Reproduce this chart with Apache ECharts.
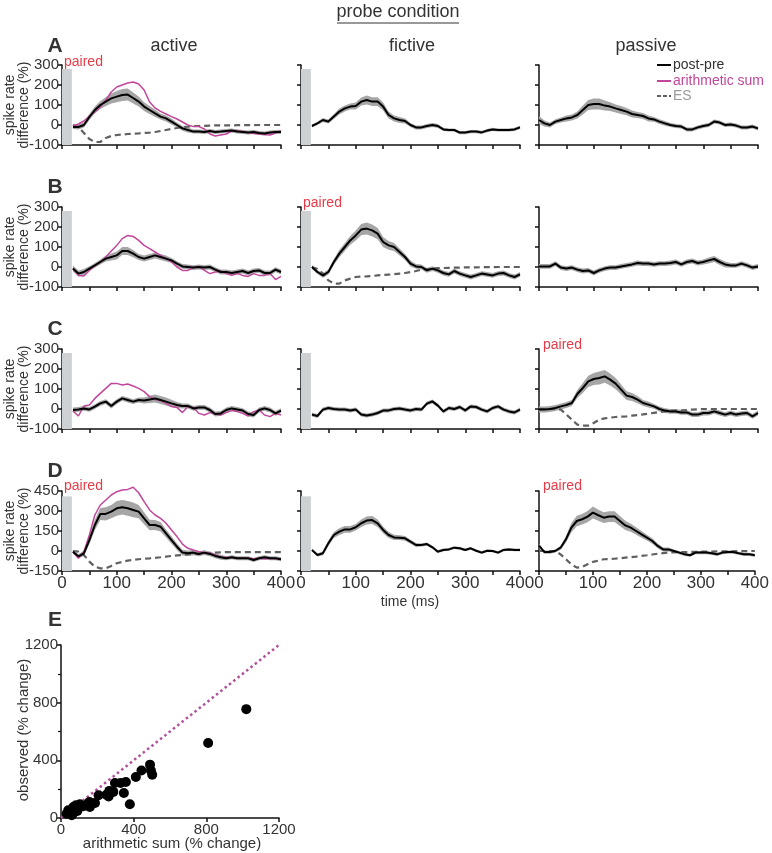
<!DOCTYPE html>
<html><head><meta charset="utf-8">
<script src="https://cdn.jsdelivr.net/npm/echarts@6/dist/echarts.min.js"></script>
<style>html,body{margin:0;padding:0;background:#fff}#c{width:772px;height:853px}</style>
</head><body><div id="c"></div><script>
// ---------- time bases (ms) ----------
const tDelay = [20,30,40,50,60,70,80,90,100,110,120,130,140,150,160,170,180,190,200,210,220,230,240,250,260,270,280,290,300,310,320,330,340,350,360,370,380,390,400];
const tFull = [0,10,20,30,40,50,60,70,80,90,100,110,120,130,140,150,160,170,180,190,200,210,220,230,240,250,260,270,280,290,300,310,320,330,340,350,360,370,380,390,400];
const stimWindow = [0, 18];
const stimTop = [280, 280, 280, 410];
const rowRanges = [[-100,300,100],[-100,300,100],[-100,300,100],[-150,450,150]];
const xTicks = [0, 400, 50];

// ---------- row A ----------
const aActMean = [-10,-10,0,40,75,100,117,133,142,150,152,135,117,92,75,58,42,33,17,0,-17,-25,-33,-33,-35,-30,-35,-33,-30,-28,-33,-35,-38,-35,-40,-42,-38,-35,-35];
const aActSem  = [10,12,12,15,18,20,22,25,28,30,30,28,25,22,20,18,15,15,15,12,12,12,10,10,10,10,10,10,10,10,10,10,10,10,10,10,10,10,10];
const aActSum  = [-5,5,20,45,65,90,125,165,190,200,210,215,205,175,115,85,68,55,42,30,15,0,-8,-8,-20,-45,-55,-50,-45,-30,-28,-33,-38,-42,-45,-48,-50,-40,-28];
const aActES   = [0,-10,-40,-70,-85,-85,-65,-55,-50,-48,-45,-43,-42,-40,-38,-35,-30,-25,-20,-15,-10,-8,-5,-5,-4,-3,-2,-2,-2,-2,-1,-1,-1,-1,0,0,0,0,0];
const aFicMean = [-5,8,25,17,42,67,83,92,95,117,125,117,117,92,50,33,25,20,0,-12,-12,-5,0,-5,-22,-25,-25,-38,-38,-33,-33,-37,-28,-22,-25,-25,-25,-22,-12];
const aFicSem  = [8,8,10,10,12,15,15,15,18,20,22,22,22,20,18,15,15,12,10,10,10,10,10,10,8,8,8,8,8,8,8,8,8,8,8,8,8,8,8];
const aPasMean = [25,8,0,17,25,33,38,50,75,100,105,105,97,92,83,75,67,55,50,45,33,28,17,8,0,-5,-8,-22,-22,-12,-5,0,17,12,0,3,-3,-12,-12,-8,-17];
const aPasSem  = [20,15,12,12,12,15,15,18,22,25,28,28,25,22,20,20,18,18,15,15,15,12,12,12,10,10,10,10,10,10,10,10,10,10,10,10,10,10,10,10,10];

// ---------- row B ----------
const bActMean = [-8,-33,-25,-8,8,25,42,50,58,80,80,67,50,42,50,58,50,42,33,17,3,0,-3,0,-3,0,-13,-25,-25,-30,-25,-20,-30,-20,-17,-30,-30,-13,-25];
const bActSem  = [15,15,15,12,12,12,15,18,20,20,20,18,15,15,15,15,15,15,12,12,12,12,12,12,12,12,12,12,12,12,12,12,12,12,12,12,12,12,12];
const bActSum  = [-8,-42,-45,-17,8,25,50,80,108,142,158,153,133,108,92,75,58,42,25,0,-17,-17,-3,3,-17,-33,-25,-20,-33,-42,-33,-42,-47,-33,-42,-42,-33,-63,-47];
const bFicMean = [0,-25,-42,-25,25,67,100,133,158,187,192,183,167,125,108,100,75,50,17,3,0,-17,-8,-17,-30,-37,-20,-33,-42,-50,-42,-33,-37,-42,-33,-30,-42,-50,-37];
const bFicSem  = [10,10,12,12,15,18,20,22,25,28,30,30,28,25,22,20,18,15,15,12,12,12,12,12,12,12,12,12,12,12,12,12,12,12,12,12,12,12,12];
const bFicES   = [0,-10,-33,-67,-83,-83,-67,-58,-50,-48,-47,-45,-42,-40,-38,-36,-33,-30,-25,-20,-13,-10,-8,-6,-5,-4,-3,-3,-2,-2,-2,-1,-1,-1,0,0,0,0,0];
const bPasMean = [3,3,3,17,-3,-8,-3,-13,-20,-17,-30,-17,-8,-3,-3,3,8,13,20,17,17,13,17,17,20,25,13,25,30,20,25,33,40,25,13,8,8,17,8,-3,3];
const bPasSem  = [12,12,12,12,12,12,12,12,12,12,12,12,12,12,12,12,12,12,12,12,12,12,12,12,12,12,12,12,12,12,12,15,15,15,15,12,12,12,12,12,12];

// ---------- row C ----------
const cActMean = [-5,-2,3,-2,12,28,37,15,37,53,45,37,45,42,48,53,45,37,28,20,15,15,3,8,8,-5,-25,-22,-5,3,-2,-8,-25,-30,-5,3,-5,-22,-8];
const cActSem  = [12,12,12,12,12,12,12,12,12,12,12,12,12,15,18,20,20,20,18,15,12,12,12,12,12,12,12,12,12,12,12,12,12,12,12,12,12,12,12];
const cActSum  = [-10,-35,15,20,53,78,103,128,128,120,125,115,103,87,62,48,42,28,12,8,-18,12,8,-22,-30,-18,-25,-30,-18,-8,-13,-22,-35,-13,-5,-30,-38,-22,-30];
const cFicMean = [-28,-35,-3,5,0,-3,-3,-8,-3,-28,-33,-28,-20,-8,-7,0,3,-3,-7,0,-3,27,38,17,-12,5,0,10,-7,13,10,-3,-12,5,13,-3,-12,-17,-3];
const cFicSem  = [10,10,10,10,10,10,10,10,10,10,10,10,10,10,10,10,10,10,10,10,10,10,10,10,10,10,10,10,10,10,10,10,10,10,10,10,10,10,10];
const cPasMean = [-3,-3,0,5,13,20,30,75,105,138,150,155,163,147,127,97,67,60,47,30,22,13,0,-8,-12,-12,-17,-17,-28,-28,-20,-20,-12,-20,-28,-20,-28,-23,-20,-37,-20];
const cPasSem  = [15,15,15,15,15,15,15,20,25,28,30,32,32,30,28,25,22,20,18,15,15,12,12,12,12,12,12,12,12,12,12,12,12,12,12,12,12,12,12,12,12];
const cPasES   = [0,0,0,0,-3,-28,-53,-78,-83,-83,-70,-53,-47,-43,-40,-38,-37,-33,-30,-27,-23,-19,-15,-12,-10,-8,-7,-5,-3,-2,0,0,0,0,0,0,0,0,0,0,0];

// ---------- row D ----------
const dActMean = [-5,-40,-17,82,195,278,278,295,320,328,320,308,295,245,195,195,182,132,82,32,-12,-17,-12,-22,-12,-22,-37,-47,-55,-47,-55,-55,-55,-67,-55,-47,-55,-55,-62];
const dActSem  = [15,15,20,30,40,45,50,50,55,55,55,55,50,45,40,38,35,30,28,25,22,20,20,18,18,18,18,18,15,15,15,15,15,15,15,15,15,15,15];
const dActSum  = [-5,-55,-5,120,270,345,382,420,445,457,462,478,437,370,308,270,245,208,158,108,52,20,7,-5,-12,-17,-30,-47,-47,-50,-55,-52,-55,-58,-55,-60,-55,-58,-60];
const dActES   = [0,-5,-30,-80,-117,-130,-130,-112,-92,-82,-72,-67,-62,-58,-55,-51,-47,-42,-37,-33,-30,-26,-22,-20,-17,-15,-12,-10,-8,-8,-8,-8,-8,-8,-8,-8,-8,-8,-8];
const dFicMean = [8,-30,-17,58,120,145,162,162,178,208,228,232,208,158,120,102,100,95,70,45,45,52,28,-5,8,12,25,20,8,20,2,-12,2,0,-12,8,12,8,8];
const dFicSem  = [10,12,15,20,22,25,25,25,25,28,30,30,28,25,22,20,18,18,15,15,12,12,12,12,10,10,10,10,10,10,10,10,10,10,10,10,10,10,10];
const dPasMean = [40,-8,-8,0,25,88,175,225,238,258,288,268,250,258,258,225,192,175,150,125,100,75,38,12,12,0,-12,-25,-32,-12,-12,-12,-17,-25,-12,-8,-8,-17,-25,-25,-32];
const dPasSem  = [15,12,12,12,15,25,35,40,40,42,45,42,40,40,40,38,35,30,28,25,22,20,18,15,15,12,12,12,12,12,12,12,12,12,12,12,12,12,12,12,12];
const dPasES   = [0,0,0,0,-25,-62,-100,-125,-120,-100,-82,-72,-62,-60,-58,-54,-50,-46,-42,-37,-32,-26,-20,-16,-12,-10,-8,-8,-7,-6,-5,-4,-4,-3,-3,-2,-2,-1,-1,0,0];

// ---------- panel E ----------
const eSum = [1020,810,490,495,502,443,412,357,328,297,346,288,266,251,262,207,379,156,145,174,159,187,104,95,77,59,49,40,68,82,123,59,31,90,68];
const eObs = [755,520,370,330,300,330,285,250,243,243,174,181,188,162,150,158,95,111,95,100,76,104,95,76,58,49,30,53,76,88,81,19,30,49,35];
const unityLine = [[0,0],[1200,1200]];
const eTicks = [0, 1200, 400];

// ---------- layout / style ----------
const FONT = "'Liberation Sans', Arial, Helvetica, sans-serif";
const colLeft = [62, 301, 539], colW = 219;
const rowTop = [65, 207, 349, 491], rowH = 80;
const AX = '#111', TXT = '#333', MAG = '#c0479a', RED = '#e63c48', BAND = '#a6a6a6', STIM = '#cdd1d4';

const panels = [
  {row:0,col:0,t:tDelay,mean:aActMean,sem:aActSem,sum:aActSum,es:aActES,stim:true},
  {row:0,col:1,t:tDelay,mean:aFicMean,sem:aFicSem,stim:true},
  {row:0,col:2,t:tFull,mean:aPasMean,sem:aPasSem},
  {row:1,col:0,t:tDelay,mean:bActMean,sem:bActSem,sum:bActSum,stim:true},
  {row:1,col:1,t:tDelay,mean:bFicMean,sem:bFicSem,es:bFicES,stim:true},
  {row:1,col:2,t:tFull,mean:bPasMean,sem:bPasSem},
  {row:2,col:0,t:tDelay,mean:cActMean,sem:cActSem,sum:cActSum,stim:true},
  {row:2,col:1,t:tDelay,mean:cFicMean,sem:cFicSem,stim:true},
  {row:2,col:2,t:tFull,mean:cPasMean,sem:cPasSem,es:cPasES},
  {row:3,col:0,t:tDelay,mean:dActMean,sem:dActSem,sum:dActSum,es:dActES,stim:true},
  {row:3,col:1,t:tDelay,mean:dFicMean,sem:dFicSem,stim:true},
  {row:3,col:2,t:tFull,mean:dPasMean,sem:dPasSem,es:dPasES}
];

const pts = (t, v) => t.map((x, i) => [x, v[i]]);
const grids = [], xAxes = [], yAxes = [], series = [];

panels.forEach((p, i) => {
  const rng = rowRanges[p.row];
  grids.push({left: colLeft[p.col], top: rowTop[p.row], width: colW, height: rowH, containLabel: false});
  xAxes.push({
    gridIndex: i, type: 'value', min: xTicks[0], max: xTicks[1], interval: xTicks[2],
    axisLine: {onZero: false, lineStyle: {color: AX, width: 1.5}},
    axisTick: {length: 4, lineStyle: {color: AX, width: 1.5}},
    axisLabel: {show: p.row === 3, fontSize: 17, color: TXT, fontFamily: FONT, margin: 4,
      formatter: v => (v % 100 === 0 ? String(v) : '')},
    splitLine: {show: false}
  });
  yAxes.push({
    gridIndex: i, type: 'value', min: rng[0], max: rng[1], interval: rng[2],
    axisLine: {show: true, onZero: false, lineStyle: {color: AX, width: 1.5}},
    axisTick: {show: true, length: 4, lineStyle: {color: AX, width: 1.5}},
    axisLabel: {show: p.col === 0, fontSize: 15, color: TXT, fontFamily: FONT, margin: 3},
    splitLine: {show: false}
  });
  const bandData = p.t.map((x, k) => [x, p.mean[k] - p.sem[k], p.mean[k] + p.sem[k]]);
  series.push({
    type: 'custom', xAxisIndex: i, yAxisIndex: i, silent: true, z: 2, clip: false,
    data: bandData, encode: {x: 0, y: [1, 2]},
    renderItem: (params, api) => {
      if (params.dataIndex !== 0) return null;
      const upper = bandData.map(d => api.coord([d[0], d[2]]));
      const lower = bandData.map(d => api.coord([d[0], d[1]])).reverse();
      return {type: 'polygon', shape: {points: upper.concat(lower)}, style: {fill: BAND}};
    }
  });
  const base = {xAxisIndex: i, yAxisIndex: i, type: 'line', symbol: 'none', silent: true, clip: false};
  if (p.es) series.push(Object.assign({}, base, {data: pts(p.t, p.es), z: 3,
    lineStyle: {color: '#606060', width: 2.2, type: [6, 4]}}));
  if (p.sum) series.push(Object.assign({}, base, {data: pts(p.t, p.sum), z: 4,
    lineStyle: {color: MAG, width: 1.5}}));
  const meanS = Object.assign({}, base, {data: pts(p.t, p.mean), z: 5, lineStyle: {color: '#000', width: 2}});
  if (p.stim) {
    meanS.markArea = {silent: true, itemStyle: {color: STIM}, z: 1,
      data: [[{xAxis: stimWindow[0], yAxis: rng[0]}, {xAxis: stimWindow[1], yAxis: stimTop[p.row]}]]};
  }
  series.push(meanS);
});

// panel E
const eIdx = panels.length;
const plainNum = v => String(v);
grids.push({left: 61, top: 645, width: 218, height: 173, containLabel: false});
xAxes.push({gridIndex: eIdx, type: 'value', min: eTicks[0], max: eTicks[1], interval: eTicks[2],
  axisLine: {onZero: false, lineStyle: {color: AX, width: 1.5}},
  axisTick: {length: 4, lineStyle: {color: AX, width: 1.5}},
  axisLabel: {fontSize: 15, color: TXT, fontFamily: FONT, margin: 4, formatter: plainNum}, splitLine: {show: false}});
yAxes.push({gridIndex: eIdx, type: 'value', min: eTicks[0], max: eTicks[1], interval: eTicks[2],
  axisLine: {show: true, onZero: false, lineStyle: {color: AX, width: 1.5}},
  axisTick: {show: true, length: 4, lineStyle: {color: AX, width: 1.5}},
  minorTick: {show: true, splitNumber: 2, length: 3, lineStyle: {color: AX, width: 1.2}},
  axisLabel: {fontSize: 15, color: TXT, fontFamily: FONT, margin: 3, formatter: plainNum}, splitLine: {show: false}});
series.push({type: 'line', xAxisIndex: eIdx, yAxisIndex: eIdx, data: unityLine, symbol: 'none', silent: true,
  lineStyle: {color: '#b0529a', width: 2.5, type: [2.5, 3]}, z: 2});
series.push({type: 'scatter', xAxisIndex: eIdx, yAxisIndex: eIdx, data: pts(eSum, eObs), symbolSize: 10,
  itemStyle: {color: '#000', opacity: 1}, silent: true, z: 3});

// ---------- texts ----------
const txt = (text, x, y, size, extra) => ({type: 'text', x, y, silent: true, z: 100,
  style: Object.assign({text, fontSize: size, fontFamily: FONT, fill: TXT, align: 'center', verticalAlign: 'middle'}, extra || {})});
const seg = (x1, y1, x2, y2, style) => ({type: 'line', silent: true, z: 100, shape: {x1, y1, x2, y2}, style});
const graphic = [
  txt('probe condition', 398, 12, 18),
  seg(337, 23, 459, 23, {stroke: TXT, lineWidth: 1}),
  txt('active', 174, 46, 18), txt('fictive', 412, 46, 18), txt('passive', 646, 46, 18),
  txt('A', 55, 46, 21, {fontWeight: 'bold'}), txt('B', 55, 187, 21, {fontWeight: 'bold'}),
  txt('C', 55, 329, 21, {fontWeight: 'bold'}), txt('D', 55, 471, 21, {fontWeight: 'bold'}),
  txt('E', 55, 620, 21, {fontWeight: 'bold'}),
  txt('paired', 64, 62, 14, {fill: RED, align: 'left'}),
  txt('paired', 303, 203, 14, {fill: RED, align: 'left'}),
  txt('paired', 543, 345, 14, {fill: RED, align: 'left'}),
  txt('paired', 64, 486, 14, {fill: RED, align: 'left'}),
  txt('paired', 543, 486, 14, {fill: RED, align: 'left'}),
  txt('time (ms)', 410, 602, 14),
  txt('arithmetic sum (% change)', 172, 844, 15),
  Object.assign(txt('observed (% change)', 24, 730, 15), {rotation: Math.PI / 2}),
  // legend
  seg(657, 65, 671, 65, {stroke: '#000', lineWidth: 2}),
  txt('post-pre', 673, 65, 14, {align: 'left'}),
  seg(657, 81, 671, 81, {stroke: MAG, lineWidth: 2}),
  txt('arithmetic sum', 673, 81, 14, {align: 'left', fill: MAG}),
  seg(657, 96, 671, 96, {stroke: '#606060', lineWidth: 2, lineDash: [4, 2]}),
  txt('ES', 673, 96, 14, {align: 'left', fill: '#9a9a9a'})
];
rowTop.forEach(top => {
  graphic.push(Object.assign(txt('spike rate\ndifference (%)', 17, top + rowH / 2, 14, {lineHeight: 14}), {rotation: Math.PI / 2}));
});

const chart = echarts.init(document.getElementById('c'), null, {renderer: 'canvas'});
chart.setOption({animation: false, backgroundColor: '#fff', grid: grids, xAxis: xAxes, yAxis: yAxes, series, graphic});
</script></body></html>
